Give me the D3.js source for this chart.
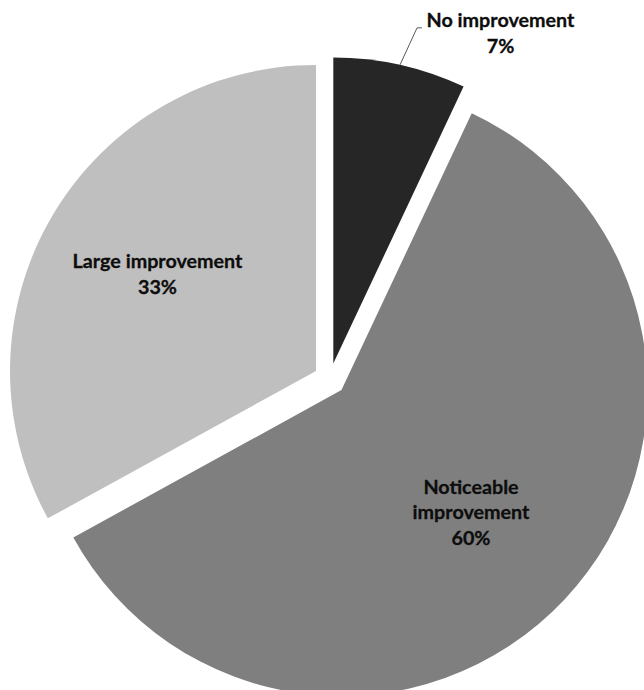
<!DOCTYPE html>
<html>
<head>
<meta charset="utf-8">
<script src="https://cdn.jsdelivr.net/npm/d3@7"></script>
<style>
  html, body { margin: 0; padding: 0; background: #fff; }
  svg { display: block; }
</style>
</head>
<body>
<svg id="chart" width="644" height="690"></svg>
<script>
const categories = ["No improvement", "Noticeable improvement", "Large improvement"];
const values = [7, 60, 33];
const labelLines = [["No improvement", "7%"], ["Noticeable", "improvement", "60%"], ["Large improvement", "33%"]];
const colors = ["#262626", "#7f7f7f", "#bfbfbf"];

const svg = d3.select("#chart");
const cx = 329.8, cy = 379.1, R = 306, explode = 16;
const FONT = "Lato, 'Open Sans', sans-serif";

const g = svg.append("g").attr("transform", `translate(${cx},${cy})`);
const pie = d3.pie().sort(null).value(d => d)(values);
const arc = d3.arc().innerRadius(0).outerRadius(R);

function dir(d) {
  const a = (d.startAngle + d.endAngle) / 2;
  return [Math.sin(a), -Math.cos(a)];
}

pie.forEach((d, i) => {
  const [ux, uy] = dir(d);
  g.append("path")
    .attr("d", arc(d))
    .attr("fill", colors[i])
    .attr("transform", `translate(${ux * explode},${uy * explode})`);
});

// measure font size so "Large improvement" ~170px wide
const probe = svg.append("text").attr("font-family", FONT).attr("font-weight", "bold")
  .attr("font-size", 100).text("Large improvement");
const w100 = probe.node().getComputedTextLength();
probe.remove();
const fs = 100 * 170 / w100;

const labelPos = [
  null,
  [471 - cx, 494 - cy],
  [157.5 - cx, 268 - cy]
];
const lh = 25.5;

pie.forEach((d, i) => {
  const [ux, uy] = dir(d);
  let x, y;
  if (i === 0) {
    const a = (d.startAngle + d.endAngle) / 2;
    const ex = ux * explode + Math.sin(a) * R;
    const ey = uy * explode - Math.cos(a) * R;
    const bx = ex + 17, by = ey - 37;
    g.append("polyline")
      .attr("points", `${ex},${ey} ${bx},${by} ${bx + 5},${by}`)
      .attr("fill", "none").attr("stroke", "#595959").attr("stroke-width", 1);
    x = 500.5 - cx; y = 27 - cy;
  } else {
    x = labelPos[i][0]; y = labelPos[i][1];
  }
  const t = g.append("text")
    .attr("font-family", FONT).attr("font-weight", "bold")
    .attr("font-size", fs).attr("fill", "#0d0d0d")
    .attr("stroke", "#0d0d0d").attr("stroke-width", 0.3)
    .attr("text-anchor", "middle");
  labelLines[i].forEach((line, k) => {
    t.append("tspan").attr("x", x).attr("y", y + k * lh).text(line);
  });
});
</script>
</body>
</html>
